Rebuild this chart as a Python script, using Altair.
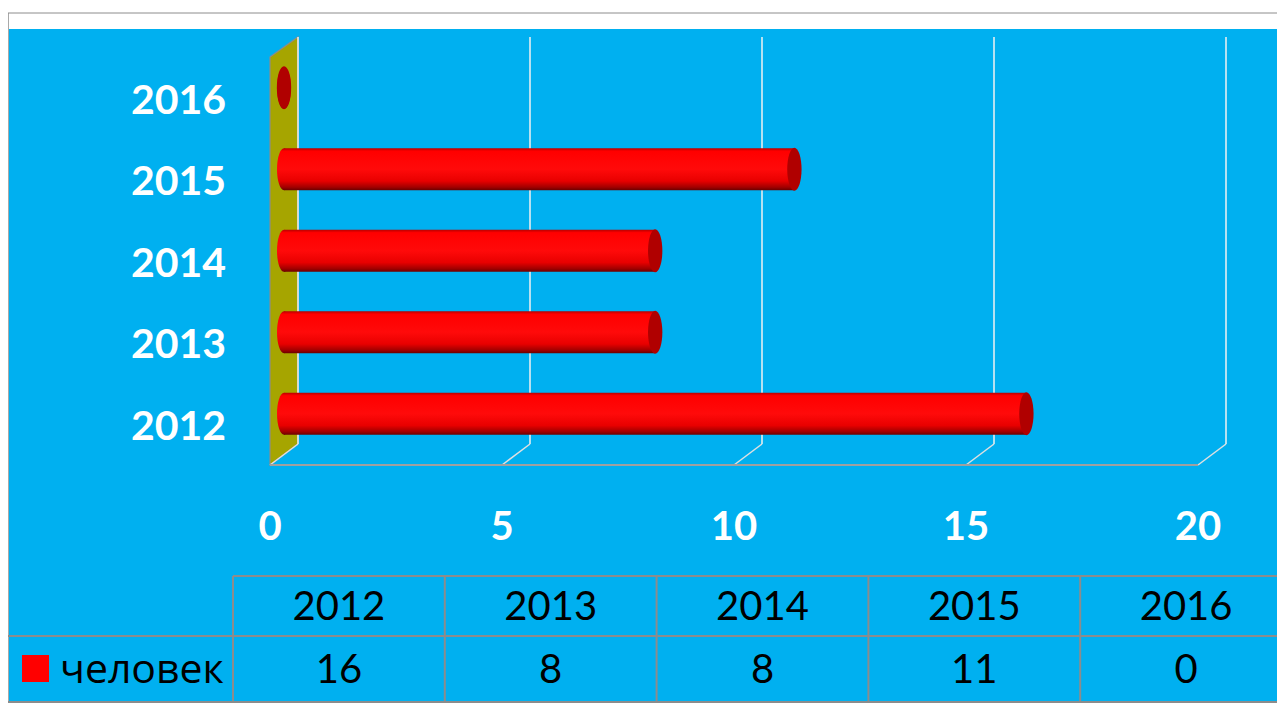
import altair as alt
import pandas as pd

# ---- data ----
years = ["2012", "2013", "2014", "2015", "2016"]
values = [16, 8, 8, 11, 0]
ticks = [0, 5, 10, 15, 20]
series_name = "человек"

# ---- layout constants (chart pixel coords) ----
W, H = 1269, 695
X0, X20 = 276, 1204          # mid-depth position of value 0 and 20
DX = 14                      # half depth offset (x)
BACK_TOP, BACK_BOT, FRONT_BOT, FRONT_TOP = 29, 436, 457, 49
BLUE = "#00B0F0"
LINE_GRAY = "#8C8C8C"

xscale = alt.Scale(domain=[ticks[0], ticks[-1]], range=[X0, X20])
yscale = alt.Scale(domain=years[::-1], range=[39, 446.5], paddingInner=0, paddingOuter=0)
tscale = alt.Scale(domain=years, range=[225, 1284], paddingInner=0, paddingOuter=0)

ELLIPSE = ("M 0.3333 0 C 0.3333 0.5523 0.1841 1 0 1 C -0.1841 1 -0.3333 0.5523 -0.3333 0 "
           "C -0.3333 -0.5523 -0.1841 -1 0 -1 C 0.1841 -1 0.3333 -0.5523 0.3333 0 Z")

grad = alt.Gradient(
    gradient="linear", x1=0, x2=0, y1=0, y2=1,
    stops=[
        alt.GradientStop(color="#B80000", offset=0),
        alt.GradientStop(color="#FF0000", offset=0.07),
        alt.GradientStop(color="#FF0A0A", offset=0.5),
        alt.GradientStop(color="#E80000", offset=0.78),
        alt.GradientStop(color="#A00000", offset=0.93),
        alt.GradientStop(color="#6A0000", offset=1),
    ],
)

one = alt.Data(values=[{}])
df = pd.DataFrame({"year": years, "value": values})
tick_df = pd.DataFrame({"t": ticks})
upp = (ticks[-1] - ticks[0]) / (X20 - X0)
wall_df = pd.DataFrame({"x": [-DX * upp, DX * upp], "top": [FRONT_TOP, BACK_TOP], "bottom": [FRONT_BOT, BACK_BOT]})

# background pieces
top_border = alt.Chart(one).mark_rule(color=LINE_GRAY, strokeWidth=1).encode(
    x=alt.value(0), x2=alt.value(W), y=alt.value(5))
left_border = alt.Chart(one).mark_rule(color=LINE_GRAY, strokeWidth=1.5).encode(
    x=alt.value(0), y=alt.value(5), y2=alt.value(H))
blue = alt.Chart(one).mark_rect(color=BLUE, opacity=1).encode(
    x=alt.value(1), x2=alt.value(W), y=alt.value(21), y2=alt.value(H))

wall = alt.Chart(wall_df).mark_area(color="#A6A500", opacity=1, stroke=LINE_GRAY, strokeWidth=1.2).encode(
    x=alt.X("x:Q", scale=xscale, axis=None),
    y=alt.Y("top:Q", scale=None),
    y2="bottom:Q",
)

grid_back = alt.Chart(tick_df).mark_rule(color="#F2F2F2", strokeWidth=1.5, xOffset=DX).encode(
    x=alt.X("t:Q", scale=xscale, axis=None), y=alt.value(BACK_TOP), y2=alt.value(BACK_BOT))
grid_diag = alt.Chart(tick_df).mark_rule(color="#E0E0E0", strokeWidth=1.5, xOffset=DX, x2Offset=-DX).encode(
    x=alt.X("t:Q", scale=xscale, axis=None), x2="t:Q", y=alt.value(BACK_BOT), y2=alt.value(FRONT_BOT))
floor = alt.Chart(pd.DataFrame({"a": [ticks[0]], "b": [ticks[-1]]})).mark_rule(
    color="#A0A0A0", strokeWidth=2, xOffset=-DX, x2Offset=-DX).encode(
    x=alt.X("a:Q", scale=xscale, axis=None), x2="b:Q", y=alt.value(FRONT_BOT))

tick_labels = alt.Chart(tick_df).mark_text(
    font="Lato", fontSize=40, fontWeight="bold", color="white", dx=-DX, baseline="alphabetic", align="center"
).encode(x=alt.X("t:Q", scale=xscale, axis=None), y=alt.value(532), text="t:Q")

# cylinders
base = alt.Chart(df).transform_calculate(zero="0")
left_cap = base.mark_point(shape=ELLIPSE, size=1764, filled=True, fill=grad, opacity=1, strokeWidth=0).encode(
    x=alt.X("zero:Q", scale=xscale, axis=None), y=alt.Y("year:N", scale=yscale, axis=None))
body = base.mark_bar(height=42, fill=grad, opacity=1).encode(
    x=alt.X("value:Q", scale=xscale, axis=None), y=alt.Y("year:N", scale=yscale, axis=None))
right_cap = base.mark_point(shape=ELLIPSE, size=1849, filled=True, fill="#B00000", opacity=1, strokeWidth=0).encode(
    x=alt.X("value:Q", scale=xscale, axis=None), y=alt.Y("year:N", scale=yscale, axis=None))

ylabels = alt.Chart(df).mark_text(
    font="Lato", fontSize=41, fontWeight="bold", color="white", align="right", baseline="alphabetic", dy=26
).encode(x=alt.value(218), y=alt.Y("year:N", scale=yscale, axis=None), text="year:N")

# data table
hl1 = alt.Chart(one).mark_rule(color=LINE_GRAY, strokeWidth=2).encode(x=alt.value(225), x2=alt.value(W), y=alt.value(568))
hl2 = alt.Chart(one).mark_rule(color=LINE_GRAY, strokeWidth=2).encode(x=alt.value(0), x2=alt.value(W), y=alt.value(628))
hl3 = alt.Chart(one).mark_rule(color=LINE_GRAY, strokeWidth=2).encode(x=alt.value(0), x2=alt.value(W), y=alt.value(694))
vlines = alt.Chart(df).mark_rule(color=LINE_GRAY, strokeWidth=2).encode(
    x=alt.X("year:N", scale=tscale, axis=None, bandPosition=0), y=alt.value(568), y2=alt.value(694))
head = alt.Chart(df).mark_text(font="Lato", fontSize=40, color="black", baseline="alphabetic").encode(
    x=alt.X("year:N", scale=tscale, axis=None), y=alt.value(612), text="year:N")
vals = alt.Chart(df).mark_text(font="Lato", fontSize=40, color="black", baseline="alphabetic").encode(
    x=alt.X("year:N", scale=tscale, axis=None), y=alt.value(675), text="value:Q")
legend_sq = alt.Chart(one).mark_square(size=729, color="#FF0000", filled=True, opacity=1).encode(
    x=alt.value(27.5), y=alt.value(660.5))
legend_txt = alt.Chart(alt.Data(values=[{"s": series_name}])).mark_text(
    font="Open Sans", fontSize=41, color="black", align="left", baseline="alphabetic").encode(
    x=alt.value(52), y=alt.value(675), text="s:N")

chart = alt.layer(
    top_border, left_border, blue, wall, grid_back, grid_diag, floor, tick_labels,
    left_cap, body, right_cap, ylabels,
    hl1, hl2, hl3, vlines, head, vals, legend_sq, legend_txt,
).resolve_scale(x="independent", y="independent").properties(
    width=W, height=H, autosize=alt.AutoSizeParams(type="none"), padding=0, background="white"
).configure_view(stroke=None)

chart.save("out.html", embed_options={"renderer": "svg", "actions": False})
